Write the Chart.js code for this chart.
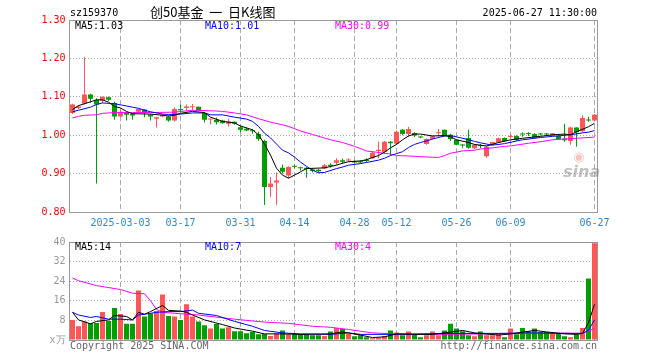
<!DOCTYPE html>
<html>
<head>
<meta charset="utf-8">
<title>创50基金 日K线图</title>
<script src="https://cdn.jsdelivr.net/npm/chart.js"></script>
<style>
  body { margin: 0; background: #fff; }
  #wrap { position: relative; width: 660px; height: 360px; overflow: hidden;
          font-family: "DejaVu Sans Mono", monospace; font-size: 10px; line-height: 10px; }
  #wrap .t { position: absolute; white-space: nowrap; }
  canvas { position: absolute; left: 0; }
</style>
</head>
<body>
<div id="wrap">
  <canvas id="priceChart" width="660" height="232" style="top:0"></canvas>
  <canvas id="volChart" width="660" height="128" style="top:232px"></canvas>

  <div class="t" style="left:70px;top:8px;color:#000">sz159370</div>
  <div class="t" style="left:150px;top:5px;font-family:'Noto Sans CJK SC';font-size:13px;line-height:13px;color:#000">创50基金&nbsp;&nbsp;一&nbsp;&nbsp;日K线图</div>
  <div class="t" style="right:63px;top:8px;color:#000">2025-06-27 11:30:00</div>

  <div class="t" style="left:75px;top:21px;color:#000">MA5:1.03</div>
  <div class="t" style="left:205px;top:21px;color:#0000ff">MA10:1.01</div>
  <div class="t" style="left:335px;top:21px;color:#ff00ff">MA30:0.99</div>

  <div class="t" style="left:75px;top:242px;color:#000">MA5:14</div>
  <div class="t" style="left:205px;top:242px;color:#0000ff">MA10:7</div>
  <div class="t" style="left:335px;top:242px;color:#ff00ff">MA30:4</div>

  <div class="t" style="left:70px;top:341px;color:#666">Copyright 2025 SINA.COM</div>
  <div class="t" style="right:63px;top:341px;color:#666">http://finance.sina.com.cn</div>

  <div class="t" style="left:573px;top:150px;font-family:'DejaVu Sans';font-size:13px;line-height:13px;color:rgba(235,120,120,0.45)">&#9673;</div>
  <div class="t" style="left:563px;top:164px;font-family:'DejaVu Sans';font-style:italic;font-weight:bold;font-size:16px;line-height:16px;color:rgba(140,140,140,0.55)">sina</div>
</div>

<script>
// trading days shown on the chart
const dates = [
  '2025-02-19','2025-02-20','2025-02-21','2025-02-24','2025-02-25','2025-02-26','2025-02-27','2025-02-28',
  '2025-03-03','2025-03-04','2025-03-05','2025-03-06','2025-03-07','2025-03-10','2025-03-11','2025-03-12',
  '2025-03-13','2025-03-14','2025-03-17','2025-03-18','2025-03-19','2025-03-20','2025-03-21','2025-03-24',
  '2025-03-25','2025-03-26','2025-03-27','2025-03-28','2025-03-31','2025-04-01','2025-04-02','2025-04-03',
  '2025-04-07','2025-04-08','2025-04-09','2025-04-10','2025-04-11','2025-04-14','2025-04-15','2025-04-16',
  '2025-04-17','2025-04-18','2025-04-21','2025-04-22','2025-04-23','2025-04-24','2025-04-25','2025-04-28',
  '2025-04-29','2025-04-30','2025-05-06','2025-05-07','2025-05-08','2025-05-09','2025-05-12','2025-05-13',
  '2025-05-14','2025-05-15','2025-05-16','2025-05-19','2025-05-20','2025-05-21','2025-05-22','2025-05-23',
  '2025-05-26','2025-05-27','2025-05-28','2025-05-29','2025-05-30','2025-06-03','2025-06-04','2025-06-05',
  '2025-06-06','2025-06-09','2025-06-10','2025-06-11','2025-06-12','2025-06-13','2025-06-16','2025-06-17',
  '2025-06-18','2025-06-19','2025-06-20','2025-06-23','2025-06-24','2025-06-25','2025-06-26','2025-06-27'
];

// tick labels on the date axis
const tickLabels = {
  '2025-03-03': '2025-03-03', '2025-03-17': '03-17', '2025-03-31': '03-31',
  '2025-04-14': '04-14', '2025-04-28': '04-28', '2025-05-12': '05-12',
  '2025-05-26': '05-26', '2025-06-09': '06-09', '2025-06-27': '06-27'
};

const opens = [
  1.058,1.071,1.082,1.106,1.092,1.090,1.099,1.084,1.049,1.059,1.056,1.061,1.067,1.053,1.043,1.049,
  1.049,1.038,1.068,1.071,1.073,1.074,1.058,1.041,1.040,1.038,1.030,1.035,1.021,1.017,1.012,1.003,
  0.985,0.865,0.877,0.915,0.895,0.920,0.916,0.915,0.911,0.910,0.913,0.923,0.928,0.935,0.934,0.932,
  0.932,0.936,0.940,0.959,0.956,0.983,0.978,1.014,1.003,1.006,0.996,0.977,0.991,1.005,1.014,1.001,
  0.988,0.975,0.993,0.966,0.974,0.945,0.976,0.981,0.993,0.995,0.998,1.004,1.005,1.003,1.004,1.004,
  0.998,0.998,0.991,0.985,1.020,1.010,1.040,1.038
];
const highs = [
  1.082,1.078,1.203,1.108,1.096,1.101,1.101,1.088,1.067,1.060,1.058,1.070,1.068,1.055,1.048,1.055,
  1.051,1.072,1.080,1.080,1.081,1.075,1.060,1.043,1.046,1.040,1.043,1.036,1.025,1.020,1.016,1.009,
  0.988,0.891,0.903,0.924,0.919,0.923,0.918,0.917,0.913,0.912,0.925,0.927,0.940,0.939,0.940,0.934,
  0.935,0.940,0.956,0.983,0.985,0.985,1.012,1.016,1.022,1.008,0.998,0.992,0.999,1.016,1.015,1.004,
  0.989,0.977,1.014,0.977,0.977,0.972,0.983,0.994,0.994,1.003,1.000,1.007,1.008,1.005,1.006,1.006,
  1.006,1.000,1.030,1.022,1.021,1.052,1.048,1.055
];
const lows = [
  1.055,1.068,1.080,1.084,0.874,1.084,1.090,1.040,1.047,1.038,1.040,1.059,1.047,1.038,1.020,1.047,
  1.035,1.036,1.060,1.064,1.064,1.063,1.033,1.028,1.028,1.030,1.022,1.027,1.008,1.010,1.004,0.985,
  0.818,0.840,0.819,0.900,0.888,0.913,0.908,0.889,0.903,0.902,0.912,0.915,0.923,0.925,0.930,0.926,
  0.926,0.930,0.938,0.940,0.952,0.948,0.975,1.000,0.995,0.995,0.992,0.975,0.989,0.996,0.996,0.985,
  0.974,0.967,0.965,0.964,0.966,0.941,0.975,0.980,0.983,0.990,0.985,0.996,0.998,0.992,0.999,0.999,
  0.997,0.988,0.983,0.975,0.970,1.008,1.035,1.036
];
const closes = [
  1.080,1.075,1.106,1.095,1.080,1.100,1.092,1.049,1.061,1.053,1.051,1.068,1.058,1.049,1.047,1.053,
  1.038,1.068,1.065,1.075,1.075,1.065,1.040,1.043,1.034,1.031,1.036,1.030,1.014,1.012,1.010,0.990,
  0.865,0.874,0.882,0.905,0.917,0.918,0.914,0.912,0.907,0.906,0.922,0.920,0.935,0.931,0.936,0.929,
  0.929,0.933,0.954,0.962,0.983,0.979,1.009,1.003,1.016,0.999,0.994,0.990,0.997,1.007,0.998,0.990,
  0.975,0.973,0.967,0.975,0.972,0.970,0.982,0.992,0.984,0.997,0.988,1.002,1.003,0.994,1.002,1.002,
  1.005,0.990,0.987,1.020,1.008,1.045,1.038,1.053
];

// volume (万)
const volumes = [
  8.2,5.6,7.6,6.9,6.9,11.4,7.8,13.1,10.6,6.6,6.6,20.2,9.6,10.9,11.8,18.6,
  9.8,9.6,8.2,14.6,9.6,7.6,6.0,4.7,6.6,4.7,5.2,3.6,3.6,2.8,3.3,2.3,
  2.5,1.6,2.7,3.9,2.3,2.5,2.5,2.5,1.9,1.9,1.6,3.5,4.9,4.5,2.5,1.5,
  1.9,1.1,0.7,1.0,1.6,3.9,3.1,1.9,3.5,2.3,1.1,1.9,3.5,1.9,3.9,6.6,
  4.7,3.6,1.9,1.5,3.5,1.9,1.9,2.9,1.1,4.7,2.3,4.9,3.6,4.7,3.3,3.3,
  2.7,2.7,1.5,1.1,2.3,4.9,25.1,39.5
];

// moving average lines: [day index, value]
const priceMA5 = [[0,1.067],[1,1.077],[3,1.087],[4,1.092],[5,1.092],[6,1.086],[7,1.075],[8,1.071],[9,1.062],[10,1.056],[13,1.055],[15,1.052],[16,1.050],[17,1.052],[18,1.057],[20,1.062],[22,1.059],[23,1.047],[25,1.036],[27,1.032],[28,1.024],[30,1.014],[31,1.001],[32,0.977],[33,0.948],[34,0.914],[35,0.896],[36,0.888],[37,0.896],[39,0.913],[42,0.915],[44,0.922],[45,0.927],[46,0.931],[48,0.933],[49,0.936],[50,0.942],[51,0.947],[52,0.956],[53,0.967],[54,0.976],[55,0.988],[56,0.998],[57,1.003],[58,1.003],[60,0.998],[62,0.999],[63,0.996],[64,0.988],[66,0.981],[67,0.976],[69,0.972],[70,0.976],[71,0.981],[73,0.988],[75,0.992],[78,0.997],[80,1.001],[82,1.003],[83,1.001],[84,1.009],[86,1.022],[87,1.031]];
const priceMA10 = [[0,1.061],[1,1.065],[3,1.073],[4,1.080],[5,1.084],[7,1.082],[8,1.079],[10,1.073],[11,1.070],[12,1.065],[13,1.061],[15,1.055],[16,1.054],[18,1.055],[20,1.058],[22,1.058],[23,1.053],[25,1.053],[27,1.047],[29,1.042],[30,1.036],[31,1.023],[32,1.005],[33,0.993],[34,0.977],[35,0.961],[36,0.954],[37,0.943],[38,0.930],[39,0.919],[40,0.909],[41,0.902],[42,0.903],[44,0.913],[45,0.917],[46,0.922],[48,0.926],[49,0.929],[51,0.935],[52,0.940],[53,0.947],[54,0.952],[55,0.957],[56,0.968],[57,0.976],[58,0.981],[59,0.985],[60,0.990],[61,0.994],[62,0.998],[63,0.999],[65,0.992],[66,0.988],[67,0.984],[68,0.980],[70,0.974],[72,0.978],[74,0.985],[75,0.988],[78,0.994],[80,0.997],[83,1.001],[85,1.006],[86,1.008],[87,1.012]];
const priceMA30 = [[0,1.045],[1,1.049],[2,1.052],[4,1.053],[5,1.057],[7,1.059],[10,1.059],[13,1.059],[17,1.060],[20,1.065],[24,1.063],[25,1.062],[27,1.058],[29,1.053],[31,1.043],[33,1.034],[35,1.027],[36,1.023],[37,1.017],[38,1.011],[40,1.002],[43,0.988],[45,0.981],[47,0.971],[49,0.959],[51,0.955],[53,0.951],[54,0.947],[56,0.946],[58,0.944],[61,0.942],[62,0.947],[63,0.953],[65,0.959],[67,0.961],[68,0.964],[70,0.967],[72,0.971],[73,0.972],[76,0.979],[78,0.983],[80,0.988],[82,0.990],[84,0.992],[87,0.995]];

const volMA5 = [[0,11.3],[1,8.2],[3,6.6],[4,7.6],[6,8.2],[7,10.0],[9,9.6],[10,8.2],[11,11.3],[12,10.5],[13,11.6],[15,14.1],[16,12.1],[18,11.8],[19,11.3],[20,10.2],[22,8.2],[25,6.3],[27,4.9],[30,3.6],[32,2.5],[35,2.5],[38,2.3],[43,2.5],[45,3.3],[48,2.0],[50,1.0],[52,1.3],[54,2.5],[57,2.3],[60,2.3],[63,3.2],[65,3.9],[67,2.9],[71,2.0],[73,2.5],[75,3.2],[77,3.9],[79,3.3],[82,2.5],[84,2.3],[85,2.7],[86,7.0],[87,14.6]];
const volMA10 = [[0,11.3],[1,10.2],[3,9.2],[4,9.6],[6,8.5],[8,8.5],[10,8.2],[11,10.2],[12,10.5],[14,11.3],[16,11.6],[18,11.6],[20,12.2],[21,10.9],[24,10.0],[27,7.6],[30,5.6],[32,3.9],[35,2.9],[38,2.5],[43,2.3],[46,2.9],[48,2.3],[54,2.3],[63,2.7],[71,2.7],[76,2.9],[82,2.7],[85,2.7],[86,4.0],[87,8.2]];
const volMA30 = [[0,25.3],[1,24.2],[4,22.2],[8,20.6],[10,19.1],[12,18.9],[13,16.0],[14,12.5],[15,11.3],[17,10.9],[21,10.2],[27,8.5],[32,7.3],[36,6.8],[40,5.6],[43,5.2],[46,4.3],[48,3.6],[50,2.9],[54,2.5],[60,2.3],[71,2.5],[76,2.7],[82,2.8],[85,2.7],[87,4.7]];

const UP = '#ff5555', DOWN = '#00a000';
const candleColors = closes.map((c, i) => c >= opens[i] ? UP : DOWN);
const monoFont = { family: 'DejaVu Sans Mono', size: 10 };

function maLine(points, color) {
  return {
    type: 'line',
    data: points.map(p => ({ x: dates[p[0]], y: p[1] })),
    borderColor: color,
    borderWidth: 1,
    pointRadius: 0,
    tension: 0,
    order: 0
  };
}

// grey frame around each plot area
const framePlugin = {
  id: 'frame',
  beforeDatasetsDraw(chart) {
    const { ctx, chartArea: a } = chart;
    const l = Math.floor(a.left) + 0.5, t = Math.floor(a.top) + 0.5;
    const r = Math.floor(a.right) + 0.5, b = Math.floor(a.bottom) + 0.5;
    ctx.save();
    ctx.strokeStyle = '#999';
    ctx.lineWidth = 1;
    ctx.strokeRect(l, t, r - l, b - t);
    ctx.restore();
  }
};

function xAxis(showLabels) {
  return {
    type: 'category',
    offset: true,
    afterFit(s) { s.height = 20; },
    grid: {
      offset: false,
      drawTicks: false,
      color: c => tickLabels[dates[c.index]] ? '#aaa' : 'rgba(0,0,0,0)'
    },
    border: { display: false, dash: [5, 3] },
    ticks: {
      display: showLabels,
      autoSkip: false,
      maxRotation: 0,
      minRotation: 0,
      padding: 5,
      color: '#2b8ad8',
      font: monoFont,
      callback: v => tickLabels[dates[v]] || ''
    }
  };
}

function createPriceChart() {
  const ctx = document.getElementById('priceChart').getContext('2d');
  new Chart(ctx, {
    type: 'bar',
    data: {
      labels: dates,
      datasets: [
        maLine(priceMA5, '#000000'),
        maLine(priceMA10, '#0000ff'),
        maLine(priceMA30, '#ff00ff'),
        {
          data: opens.map((o, i) => [o, closes[i]]),
          backgroundColor: candleColors,
          barThickness: 5,
          minBarLength: 1,
          grouped: false,
          inflateAmount: 0,
          borderWidth: 0,
          order: 1
        },
        {
          data: lows.map((l, i) => [l, highs[i]]),
          backgroundColor: candleColors,
          barThickness: 1,
          grouped: false,
          inflateAmount: 0,
          borderWidth: 0,
          order: 2
        }
      ]
    },
    options: {
      responsive: false,
      animation: false,
      layout: { padding: { left: 0, right: 62.5, top: 20, bottom: 0 } },
      plugins: { legend: { display: false }, tooltip: { enabled: false } },
      scales: {
        x: xAxis(true),
        y: {
          min: 0.8,
          max: 1.3,
          afterFit(s) { s.width = 69.5; },
          grid: { drawTicks: false, color: '#aaa' },
          border: { display: false, dash: [1, 2] },
          ticks: {
            stepSize: 0.1,
            padding: 4,
            color: '#ff0000',
            font: monoFont,
            callback: v => v.toFixed(2)
          }
        }
      }
    },
    plugins: [framePlugin]
  });
}

function createVolumeChart() {
  const ctx = document.getElementById('volChart').getContext('2d');
  new Chart(ctx, {
    type: 'bar',
    data: {
      labels: dates,
      datasets: [
        maLine(volMA5, '#000000'),
        maLine(volMA10, '#0000ff'),
        maLine(volMA30, '#ff00ff'),
        {
          data: volumes,
          backgroundColor: candleColors,
          barThickness: 5,
          grouped: false,
          inflateAmount: 0,
          borderWidth: 0,
          order: 1
        }
      ]
    },
    options: {
      responsive: false,
      animation: false,
      layout: { padding: { left: 0, right: 62.5, top: 8, bottom: 0 } },
      plugins: { legend: { display: false }, tooltip: { enabled: false } },
      scales: {
        x: xAxis(false),
        y: {
          min: 0,
          max: 40,
          afterFit(s) { s.width = 69.5; },
          grid: { drawTicks: false, color: '#aaa' },
          border: { display: false, dash: [1, 2] },
          ticks: {
            stepSize: 8,
            padding: 4,
            color: '#999',
            font: monoFont,
            callback: v => v === 0 ? 'x万' : String(v)
          }
        }
      }
    },
    plugins: [framePlugin]
  });
}

createPriceChart();
createVolumeChart();
</script>
</body>
</html>
